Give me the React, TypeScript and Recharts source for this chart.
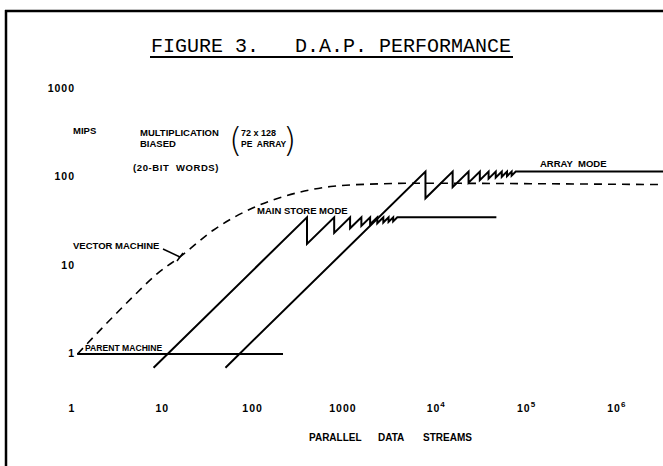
import React from 'react';
import { LineChart, Line, XAxis, YAxis, Customized } from 'recharts';

// ---- data (parallel data streams vs MIPS, log-log) ----
const xTicks = [1, 10, 100, 1000, 10000, 100000, 1000000];
const xTickLabels = ['1', '10', '100', '1000', '10^4', '10^5', '10^6'];
const yTicks = [1, 10, 100, 1000];
const yTickLabels = ['1', '10', '100', '1000'];

const parentMachine = [
  { x: 1.14, y: 1 },
  { x: 217, y: 1 },
];

const vectorMachine = [
  { x: 1.15, y: 1.0 },
  { x: 2.4, y: 2.2 },
  { x: 4.7, y: 4.4 },
  { x: 8.8, y: 8.1 },
  { x: 15.7, y: 12.5 },
  { x: 36.6, y: 25 },
  { x: 100, y: 44.6 },
  { x: 336, y: 67.6 },
  { x: 730, y: 78 },
  { x: 2000, y: 83 },
  { x: 7200, y: 85 },
  { x: 120000, y: 84 },
  { x: 3500000, y: 82 },
];

const mainStoreMode = [
  { x: 8, y: 0.7 },
  { x: 400, y: 35 },
  { x: 400, y: 17.5 },
  { x: 800, y: 35 },
  { x: 800, y: 23.3 },
  { x: 1200, y: 35 },
  { x: 1200, y: 26.3 },
  { x: 1600, y: 35 },
  { x: 1600, y: 28 },
  { x: 2000, y: 35 },
  { x: 2000, y: 29.2 },
  { x: 2400, y: 35 },
  { x: 2400, y: 30 },
  { x: 2800, y: 35 },
  { x: 2800, y: 30.6 },
  { x: 3200, y: 35 },
  { x: 3200, y: 31.1 },
  { x: 3600, y: 35 },
  { x: 3600, y: 31.5 },
  { x: 4000, y: 35 },
  { x: 50000, y: 35 },
];

const arrayMode = [
  { x: 50, y: 0.7 },
  { x: 8200, y: 115 },
  { x: 8200, y: 57.5 },
  { x: 16400, y: 115 },
  { x: 16400, y: 76.7 },
  { x: 24600, y: 115 },
  { x: 24600, y: 86.3 },
  { x: 32800, y: 115 },
  { x: 32800, y: 92 },
  { x: 41000, y: 115 },
  { x: 41000, y: 95.8 },
  { x: 49200, y: 115 },
  { x: 49200, y: 98.6 },
  { x: 57400, y: 115 },
  { x: 57400, y: 100.6 },
  { x: 65600, y: 115 },
  { x: 65600, y: 102.2 },
  { x: 73800, y: 115 },
  { x: 73800, y: 103.5 },
  { x: 82000, y: 115 },
  { x: 3500000, y: 115 },
];

const LETTER = '"Liberation Sans", Arial, sans-serif';
const MONO = '"Liberation Mono", "Courier New", monospace';

const XTick = (props: any) => {
  const { x, y, payload } = props;
  const i = xTicks.indexOf(payload.value);
  const label = i >= 0 ? xTickLabels[i] : String(payload.value);
  const [base, exp] = label.split('^');
  return (
    <text
      x={x + (exp ? 3 : 0)}
      y={y + 31}
      textAnchor="middle"
      fontFamily={LETTER}
      fontWeight="bold"
      fontSize={10.5}
      letterSpacing={1}
      fill="#000"
    >
      {base}
      {exp ? (
        <tspan dy={-5} fontSize={8}>
          {exp}
        </tspan>
      ) : null}
    </text>
  );
};

const YTick = (props: any) => {
  const { x, y, payload } = props;
  const i = yTicks.indexOf(payload.value);
  const label = i >= 0 ? yTickLabels[i] : String(payload.value);
  return (
    <text
      x={x + 3}
      y={y + 3.5}
      textAnchor="end"
      fontFamily={LETTER}
      fontWeight="bold"
      fontSize={10.5}
      letterSpacing={1}
      fill="#000"
    >
      {label}
    </text>
  );
};

const lbl = {
  fontFamily: LETTER,
  fontWeight: 'bold' as const,
  fontSize: 9.5,
  fill: '#000',
};

const Annotations = () => (
  <g>
    {/* frame */}
    <line x1={5} y1={11} x2={663} y2={11} stroke="#000" strokeWidth={2.5} />
    <line x1={6} y1={10} x2={6} y2={466} stroke="#000" strokeWidth={2.5} />

    {/* title */}
    <text x={331} y={52} textAnchor="middle" fontFamily={MONO} fontSize={20} fill="#000" style={{ whiteSpace: 'pre' }}>
      {'FIGURE 3.   D.A.P. PERFORMANCE'}
    </text>
    <line x1={150} y1={57} x2={513} y2={57} stroke="#000" strokeWidth={2} />

    <text x={73} y={134} {...lbl}>MIPS</text>
    <text x={140} y={135.5} {...lbl}>MULTIPLICATION</text>
    <text x={140} y={146.5} {...lbl}>BIASED</text>
    <text x={241} y={135.5} {...lbl} fontSize={9}>72 x 128</text>
    <text x={241} y={146.5} {...lbl} fontSize={8.5} style={{ whiteSpace: 'pre' }}>{'PE  ARRAY'}</text>
    <text x={229} y={152} fontFamily='"DejaVu Sans", sans-serif' fontWeight={200} fontSize={34} fill="#000">(</text>
    <text x={283} y={152} fontFamily='"DejaVu Sans", sans-serif' fontWeight={200} fontSize={34} fill="#000">)</text>
    <text x={133} y={170.5} {...lbl} letterSpacing={0.6} style={{ whiteSpace: 'pre' }}>{'(20-BIT  WORDS)'}</text>

    <text x={73} y={248.5} {...lbl}>VECTOR MACHINE</text>
    <line x1={163} y1={249} x2={180} y2={257} stroke="#000" strokeWidth={1.5} />
    <line x1={177} y1={261} x2={183} y2={253} stroke="#000" strokeWidth={1.5} />

    <text x={257} y={213.5} {...lbl}>MAIN STORE MODE</text>
    <text x={540} y={166.5} {...lbl} style={{ whiteSpace: 'pre' }}>{'ARRAY  MODE'}</text>
    <text x={85} y={350.5} {...lbl} fontSize={8.6}>PARENT MACHINE</text>

    <text x={309} y={441} {...lbl} fontSize={10}>PARALLEL</text>
    <text x={378} y={441} {...lbl} fontSize={10}>DATA</text>
    <text x={423} y={441} {...lbl} fontSize={10}>STREAMS</text>
  </g>
);

export default function App() {
  return (
    <div style={{ position: 'absolute', left: 0, top: 0, width: 663, height: 466, background: '#fff' }}>
      <LineChart
        width={663}
        height={466}
        margin={{ top: 88.5, right: 0, bottom: 45.4, left: 0 }}
      >
        <XAxis
          dataKey="x"
          type="number"
          scale="log"
          domain={[1, 3500000]}
          allowDataOverflow
          ticks={xTicks}
          tick={<XTick />}
          axisLine={false}
          tickLine={false}
          tickSize={0}
          tickMargin={0}
          height={40}
          interval={0}
        />
        <YAxis
          dataKey="y"
          type="number"
          scale="log"
          domain={[0.5, 1000]}
          allowDataOverflow
          ticks={yTicks}
          tick={<YTick />}
          axisLine={false}
          tickLine={false}
          tickSize={0}
          tickMargin={0}
          width={72}
          interval={0}
        />
        <Line data={parentMachine} dataKey="y" type="linear" stroke="#000" strokeWidth={2} dot={false} activeDot={false} isAnimationActive={false} />
        <Line data={vectorMachine} dataKey="y" type="monotone" stroke="#000" strokeWidth={1.6} strokeDasharray="8 6" dot={false} activeDot={false} isAnimationActive={false} />
        <Line data={mainStoreMode} dataKey="y" type="linear" stroke="#000" strokeWidth={2} strokeLinejoin="miter" dot={false} activeDot={false} isAnimationActive={false} />
        <Line data={arrayMode} dataKey="y" type="linear" stroke="#000" strokeWidth={2} strokeLinejoin="miter" dot={false} activeDot={false} isAnimationActive={false} />
        <Customized component={<Annotations />} />
      </LineChart>
    </div>
  );
}
